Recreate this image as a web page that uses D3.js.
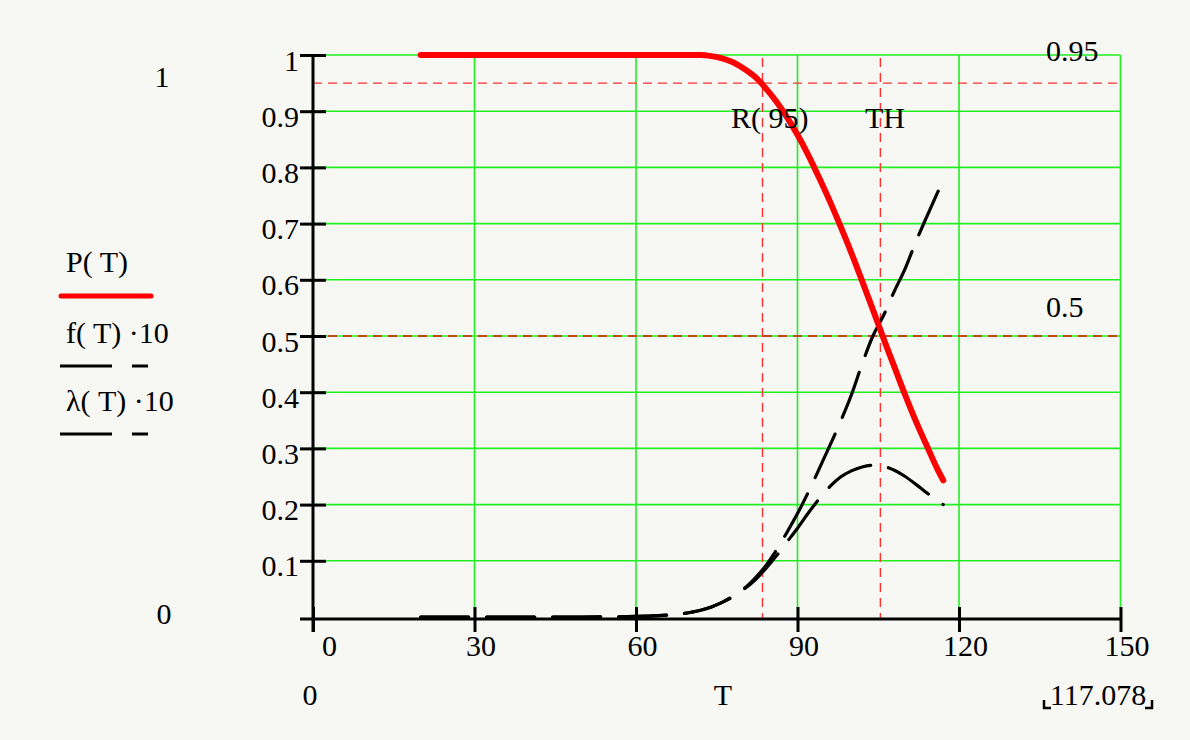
<!DOCTYPE html>
<html>
<head>
<meta charset="utf-8">
<script src="https://cdn.jsdelivr.net/npm/d3@7/dist/d3.min.js"></script>
<style>
  html, body { margin: 0; padding: 0; background: #f7f7f3; }
  svg { display: block; }
  text { font-family: "Liberation Serif", "Times New Roman", serif; fill: #000; }
</style>
</head>
<body>
<svg id="chart" width="1190" height="740"></svg>
<script>
// Time grid of the traces
const T = [20, 30, 40, 50, 60, 65, 68, 70, 72, 74, 76, 78, 80, 82, 84, 86, 88, 90,
           92, 94, 96, 98, 100, 102, 104, 106, 108, 110, 112, 114, 116, 117.078];
// Reliability P(T)
const P = [1, 1, 1, 1, 1, 1, 1, 1, 1, 0.998, 0.994, 0.987, 0.976, 0.962, 0.942, 0.918, 0.89, 0.858,
           0.822, 0.782, 0.74, 0.695, 0.648, 0.598, 0.547, 0.495, 0.445, 0.395, 0.348, 0.305, 0.263, 0.243];
// Density f(T)·10
const F10 = [0, 0, 0, 0, 0.001, 0.003, 0.005, 0.008, 0.012, 0.018, 0.026, 0.036, 0.049, 0.065, 0.085, 0.108, 0.133, 0.158,
             0.185, 0.21, 0.232, 0.249, 0.26, 0.267, 0.27, 0.268, 0.261, 0.25, 0.236, 0.221, 0.206, 0.2];
// Hazard rate λ(T)·10
const L10 = [0, 0, 0, 0, 0.001, 0.003, 0.005, 0.008, 0.012, 0.018, 0.026, 0.037, 0.05, 0.068, 0.09, 0.118, 0.15, 0.184,
             0.222, 0.263, 0.305, 0.348, 0.395, 0.45, 0.5, 0.537, 0.58, 0.62, 0.668, 0.712, 0.755, 0.778];

// Marker levels and times
const levelHigh = 0.95;
const levelMid = 0.5;
const R95 = 83.5;
const TH = 105.4;
const Tend = 117.078;

const xTicks = [0, 30, 60, 90, 120, 150];
const yTicks = [0.1, 0.2, 0.3, 0.4, 0.5, 0.6, 0.7, 0.8, 0.9, 1];

const svg = d3.select("#chart");
const FS = 30;

svg.append("rect").attr("width", 1190).attr("height", 740).attr("fill", "#f7f7f3");

const x = d3.scaleLinear().domain([0, 150]).range([313, 1120.5]);
const y = d3.scaleLinear().domain([0, 1]).range([617, 55]);
const axisY = y(0) + 2;

// grid
const grid = svg.append("g").attr("stroke", "#22ee22").attr("stroke-width", 1.6);
yTicks.forEach(v => grid.append("line")
  .attr("x1", x(0)).attr("x2", x(150)).attr("y1", y(v)).attr("y2", y(v)));
xTicks.filter(v => v > 0).forEach(v => grid.append("line")
  .attr("x1", x(v)).attr("x2", x(v)).attr("y1", y(1)).attr("y2", axisY));

// marker lines
const marks = svg.append("g").attr("stroke-width", 1.4).attr("stroke-dasharray", "9,6");
marks.append("line").attr("stroke", "#ff3030")
  .attr("x1", x(0)).attr("x2", x(150)).attr("y1", y(levelHigh)).attr("y2", y(levelHigh));
marks.append("line").attr("stroke", "#c0481e").attr("stroke-width", 1.8)
  .attr("x1", x(0)).attr("x2", x(150)).attr("y1", y(levelMid)).attr("y2", y(levelMid));
[R95, TH].forEach(t => marks.append("line").attr("stroke", "#ff3030")
  .attr("x1", x(t)).attr("x2", x(t)).attr("y1", y(1) + 3).attr("y2", axisY));

// axes
const xAxis = svg.append("g").attr("transform", `translate(0,${axisY})`)
  .call(d3.axisBottom(x).tickValues(xTicks).tickSizeInner(13).tickSizeOuter(0).tickFormat(d3.format("d")));
xAxis.select(".domain").remove();
xAxis.selectAll(".tick line").attr("y1", -12).attr("stroke", "#000").attr("stroke-width", 3);
xAxis.selectAll(".tick text")
  .attr("font-size", FS).attr("font-family", "Liberation Serif")
  .attr("y", 37).attr("dy", 0)
  .attr("x", d => d === 0 ? 16 : 6);

const yAxis = svg.append("g").attr("transform", `translate(${x(0)},0)`)
  .call(d3.axisLeft(y).tickValues(yTicks).tickSizeInner(13).tickSizeOuter(0).tickFormat(d => d === 1 ? "1" : d3.format(".1f")(d)));
yAxis.select(".domain").remove();
yAxis.selectAll(".tick line").attr("x1", 13).attr("stroke", "#000").attr("stroke-width", 3);
yAxis.selectAll(".tick text")
  .attr("font-size", FS).attr("font-family", "Liberation Serif")
  .attr("x", -14).attr("y", 15).attr("dy", 0);

svg.append("line").attr("stroke", "#000").attr("stroke-width", 3)
  .attr("x1", x(0)).attr("x2", x(0)).attr("y1", y(1) - 1).attr("y2", axisY + 13);
svg.append("line").attr("stroke", "#000").attr("stroke-width", 3)
  .attr("x1", x(0) - 13).attr("x2", x(150)).attr("y1", axisY).attr("y2", axisY);

// traces
const pts = (vals) => T.map((t, i) => [t, vals[i]]);
const line = d3.line().x(d => x(d[0])).y(d => y(d[1])).curve(d3.curveMonotoneX);

svg.append("path").datum(pts(F10)).attr("d", line)
  .attr("fill", "none").attr("stroke", "#000").attr("stroke-width", 3.2)
  .attr("stroke-dasharray", "48,18").attr("stroke-linecap", "round");
svg.append("path").datum(pts(L10)).attr("d", line)
  .attr("fill", "none").attr("stroke", "#000").attr("stroke-width", 3.2)
  .attr("stroke-dasharray", "48,18").attr("stroke-linecap", "round");
svg.append("path").datum(pts(P)).attr("d", line)
  .attr("fill", "none").attr("stroke", "#ff0000").attr("stroke-width", 6)
  .attr("stroke-linecap", "round").attr("stroke-linejoin", "round");

// annotations
const label = (tx, ty, s, anchor = "start") => svg.append("text")
  .attr("x", tx).attr("y", ty).attr("font-size", FS).attr("text-anchor", anchor).text(s);
label(1046, 61, "0.95");
label(1046, 317, "0.5");
label(731, 128, "R( 95)");
label(865, 128, "TH");

// axis limit readouts
label(162, 87, "1", "middle");
label(164, 624, "0", "middle");
label(310, 705, "0", "middle");
label(723, 705, "T", "middle");
label(1098, 705, d3.format(".3f")(Tend), "middle");
const br = svg.append("g").attr("stroke", "#000").attr("stroke-width", 2.5).attr("fill", "none");
br.append("path").attr("d", "M1044,700 V708 H1051");
br.append("path").attr("d", "M1152,700 V708 H1145");

// legend
label(66, 272, "P( T)");
svg.append("line").attr("x1", 61).attr("x2", 151).attr("y1", 296).attr("y2", 296)
  .attr("stroke", "#ff0000").attr("stroke-width", 5).attr("stroke-linecap", "round");
label(66, 343, "f( T) ·10");
label(66, 411, "λ( T) ·10");
[366, 434].forEach(ly => {
  svg.append("line").attr("x1", 60).attr("x2", 112).attr("y1", ly).attr("y2", ly)
    .attr("stroke", "#000").attr("stroke-width", 3);
  svg.append("line").attr("x1", 132).attr("x2", 148).attr("y1", ly).attr("y2", ly)
    .attr("stroke", "#000").attr("stroke-width", 3);
});
</script>
</body>
</html>
